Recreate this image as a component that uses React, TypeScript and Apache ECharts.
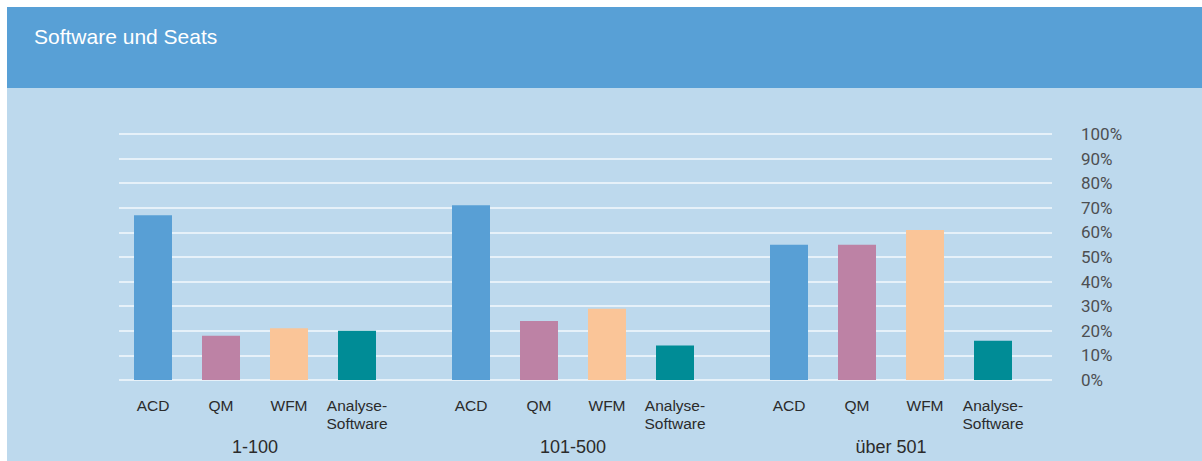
import React, { useEffect, useRef } from "react";
import * as echarts from "echarts";

// Seat-size groups and the software types asked about in each group
const groups = ["1-100", "101-500", "über 501"];
const software = ["ACD", "QM", "WFM", "Analyse-\nSoftware"];

// Share of companies using each software type (%)
const seats1to100 = [67, 18, 21, 20];
const seats101to500 = [71, 24, 29, 14];
const seatsOver501 = [55, 55, 61, 16];
const groupValues = [seats1to100, seats101to500, seatsOver501];

const barColors = ["#589fd5", "#bd82a5", "#fac598", "#008c96"];

const TITLE = "Software und Seats";
const SANS = "'Liberation Sans', Arial, Helvetica, sans-serif";

export default function App() {
  const ref = useRef<HTMLDivElement>(null);

  useEffect(() => {
    if (!ref.current) return;
    const chart = echarts.init(ref.current, null, { renderer: "svg" });

    const plotTop = 127;
    const plotHeight = 246;
    const groupLeft = [112, 430, 748];
    const groupWidth = 272;

    const grids: any[] = [
      { left: 112, right: 150, top: plotTop, height: plotHeight, outerBoundsMode: "none" },
    ];
    const xAxes: any[] = [
      { type: "category", gridIndex: 0, show: false, data: software },
    ];
    const yAxes: any[] = [
      {
        type: "value",
        gridIndex: 0,
        position: "right",
        min: 0,
        max: 100,
        interval: 10,
        axisLine: { show: false },
        axisTick: { show: false },
        splitLine: { show: true, lineStyle: { color: "#f4f8fc", width: 1.5 } },
        axisLabel: {
          margin: 29,
          formatter: "{value}%",
          color: "#4d4f52",
          fontFamily: "Roboto, 'Noto Sans', sans-serif",
          fontSize: 17,
          padding: [4, 0, 0, 0],
        },
      },
    ];
    const series: any[] = [];

    groups.forEach((name, i) => {
      grids.push({
        left: groupLeft[i],
        width: groupWidth,
        top: plotTop,
        height: plotHeight,
        outerBoundsMode: "none",
      });
      xAxes.push({
        type: "category",
        gridIndex: i + 1,
        data: software,
        axisLine: { show: false },
        axisTick: { show: false },
        splitLine: { show: false },
        axisLabel: {
          interval: 0,
          margin: 16,
          color: "#2b2b2b",
          fontFamily: SANS,
          fontSize: 15.5,
          lineHeight: 18,
        },
      });
      xAxes.push({
        type: "category",
        gridIndex: i + 1,
        position: "bottom",
        data: [name],
        axisLine: { show: false },
        axisTick: { show: false },
        splitLine: { show: false },
        axisLabel: {
          interval: 0,
          margin: 56,
          color: "#2b2b2b",
          fontFamily: SANS,
          fontSize: 18,
          lineHeight: 22,
        },
      });
      yAxes.push({
        type: "value",
        gridIndex: i + 1,
        min: 0,
        max: 100,
        show: false,
        splitLine: { show: false },
      });
      series.push({
        type: "bar",
        name,
        xAxisIndex: 1 + i * 2,
        yAxisIndex: i + 1,
        barWidth: 38,
        data: groupValues[i].map((v, k) => ({
          value: v,
          itemStyle: { color: barColors[k] },
        })),
      });
    });

    chart.setOption({
      animation: false,
      backgroundColor: "#bdd9ed",
      grid: grids,
      xAxis: xAxes,
      yAxis: yAxes,
      series,
      graphic: [
        {
          type: "rect",
          left: 0,
          top: 0,
          z: -10,
          shape: { width: 1195, height: 81 },
          style: { fill: "#58a0d6" },
        },
        {
          type: "text",
          x: 27,
          y: 29,
          style: {
            text: TITLE,
            fill: "#ffffff",
            font: `21px ${SANS}`,
            verticalAlign: "middle",
          },
        },
      ],
    });

    return () => chart.dispose();
  }, []);

  return (
    <div
      ref={ref}
      style={{ position: "absolute", left: 7, top: 7, width: 1195, height: 454 }}
    />
  );
}
